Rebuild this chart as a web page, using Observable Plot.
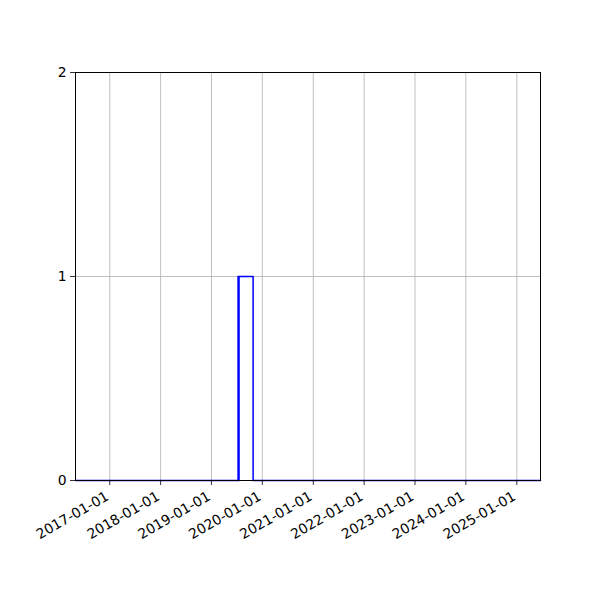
<!DOCTYPE html>
<html>
<head>
<meta charset="utf-8">
<script src="https://cdn.jsdelivr.net/npm/d3@7"></script>
<script src="https://cdn.jsdelivr.net/npm/@observablehq/plot@0.6"></script>
<style>
  html, body { margin: 0; padding: 0; background: #fff; }
  #chart svg { display: block; }
</style>
</head>
<body>
<div id="chart"></div>
<script>
const stepDates = ["2016-04-30", "2019-07-11", "2019-07-15", "2019-07-18", "2019-10-27", "2025-06-20"];
const stepValues = [0, 1, 0, 1, 0, 0];
const xTickLabels = ["2017-01-01", "2018-01-01", "2019-01-01", "2020-01-01", "2021-01-01", "2022-01-01", "2023-01-01", "2024-01-01", "2025-01-01"];
const yTicks = [0, 1, 2];
const xDomain = ["2016-04-30", "2025-06-20"];

const data = stepDates.map((d, i) => ({date: new Date(d + "T00:00:00Z"), value: stepValues[i]}));
const xTicks = xTickLabels.map(d => new Date(d + "T00:00:00Z"));

const chart = Plot.plot({
  width: 600,
  height: 600,
  marginLeft: 75,
  marginRight: 60,
  marginTop: 72,
  marginBottom: 120,
  style: {fontFamily: "DejaVu Sans", fontSize: "13.9px", background: "#fff", color: "#000"},
  x: {type: "utc", domain: xDomain.map(d => new Date(d + "T00:00:00Z"))},
  y: {domain: [0, 2]},
  marks: [
    Plot.gridX(xTicks, {stroke: "#b0b0b0", strokeOpacity: 1, strokeWidth: 0.8}),
    Plot.gridY(yTicks, {stroke: "#b0b0b0", strokeOpacity: 1, strokeWidth: 0.8}),
    Plot.line(data, {x: "date", y: "value", curve: "step-after", stroke: "blue", strokeWidth: 1.5}),
    Plot.frame({stroke: "black", strokeWidth: 1}),
    Plot.axisY({ticks: yTicks, tickSize: 5, tickPadding: 4, tickFormat: d => String(d), label: null, stroke: "black", strokeWidth: 0.8}),
    Plot.axisX({ticks: xTicks, tickSize: 5, tickFormat: () => "", label: null, stroke: "black", strokeWidth: 0.8}),
    Plot.text(xTicks.map((d, i) => ({date: d, label: xTickLabels[i]})), {
      x: "date", text: "label", frameAnchor: "bottom",
      rotate: -30, textAnchor: "end", lineAnchor: "top",
      dx: -5, dy: 10, fill: "black", fontSize: 13.9
    })
  ]
});
document.getElementById("chart").appendChild(chart);
</script>
</body>
</html>
